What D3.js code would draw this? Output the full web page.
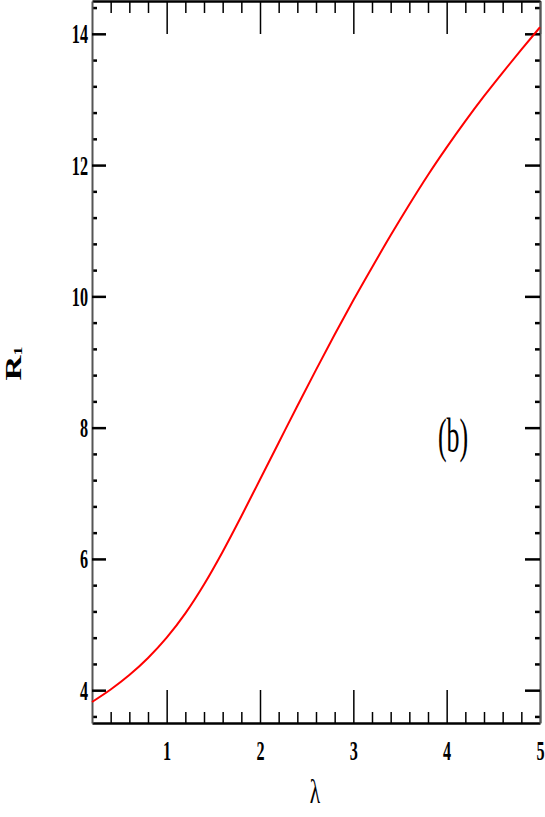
<!DOCTYPE html>
<html>
<head>
<meta charset="utf-8">
<script src="https://cdn.jsdelivr.net/npm/d3@7"></script>
<style>
  body { margin: 0; background: #fff; }
  svg { display: block; }
  .lbl { font-family: "Liberation Serif", "DejaVu Serif", serif; fill: #000; }
</style>
</head>
<body>
<svg width="545" height="817"></svg>
<script>
// lambda values and R1
const lambda = [0.2, 0.4, 0.6, 0.8, 1.0, 1.2, 1.4, 1.6, 1.8, 2.0, 2.2, 2.4, 2.6,
                2.8, 3.0, 3.2, 3.4, 3.6, 3.8, 4.0, 4.2, 4.4, 4.6, 4.8, 5.0];
const r1 = [3.82, 4.01, 4.23, 4.49, 4.80, 5.17, 5.61, 6.11, 6.65, 7.21, 7.77, 8.33, 8.88,
            9.42, 9.94, 10.44, 10.93, 11.40, 11.85, 12.27, 12.67, 13.05, 13.41, 13.76, 14.10];

const xMajor = [1, 2, 3, 4, 5];
const xMinor = d3.range(0.4, 5, 0.2).map(v => +v.toFixed(1)).filter(v => !xMajor.includes(v));
const yMajor = [4, 6, 8, 10, 12, 14];
const yMinor = d3.range(3.6, 14.5, 0.4).map(v => +v.toFixed(1)).filter(v => !yMajor.includes(v));

const svg = d3.select("svg");
const plotL = 92, plotR = 540, plotT = 1, plotB = 723;

const x = d3.scaleLinear().domain([0.2, 5]).range([plotL, plotR]);
const y = d3.scaleLinear().domain([3.5, 14.5]).range([plotB, plotT]);

const sx = 0.6; // squeeze the digits like the original font

// bottom axis: minor then major ticks, pointing inward
svg.append("g").attr("transform", `translate(0,${plotB})`)
    .call(d3.axisBottom(x).tickValues(xMinor).tickSize(-11).tickSizeOuter(0).tickFormat(""))
    .call(g => g.select(".domain").remove())
    .call(g => g.selectAll("line").attr("stroke-width", 1.5));
const xb = svg.append("g").attr("transform", `translate(0,${plotB})`)
    .call(d3.axisBottom(x).tickValues(xMajor).tickSize(-33).tickSizeOuter(0).tickFormat(d3.format("d")));
xb.select(".domain").attr("stroke-width", 2.5);
xb.selectAll("line").attr("stroke-width", 1.5);
xb.selectAll("text")
    .attr("class", "lbl").attr("font-size", 27).attr("font-weight", "bold")
    .attr("y", null).attr("dy", null)
    .attr("transform", `translate(0,37) scale(${sx},1)`);

// top axis mirrored
svg.append("g").attr("transform", `translate(0,${plotT})`)
    .call(d3.axisTop(x).tickValues(xMinor).tickSize(-12).tickSizeOuter(0).tickFormat(""))
    .call(g => g.select(".domain").remove())
    .call(g => g.selectAll("line").attr("stroke-width", 1.5));
svg.append("g").attr("transform", `translate(0,${plotT})`)
    .call(d3.axisTop(x).tickValues(xMajor).tickSize(-33).tickSizeOuter(0).tickFormat(""))
    .call(g => g.select(".domain").attr("stroke-width", 2.5))
    .call(g => g.selectAll("line").attr("stroke-width", 1.5));

// left axis
svg.append("g").attr("transform", `translate(${plotL},0)`)
    .call(d3.axisLeft(y).tickValues(yMinor).tickSize(-5).tickSizeOuter(0).tickFormat(""))
    .call(g => g.select(".domain").remove())
    .call(g => g.selectAll("line").attr("stroke-width", 2.5));
const yl = svg.append("g").attr("transform", `translate(${plotL},0)`)
    .call(d3.axisLeft(y).tickValues(yMajor).tickSize(-14).tickSizeOuter(0).tickFormat(d3.format("d")));
yl.select(".domain").attr("stroke", "#555").attr("stroke-width", 2);
yl.selectAll("line").attr("stroke-width", 2.5);
yl.selectAll("text")
    .attr("class", "lbl").attr("font-size", 27).attr("font-weight", "bold")
    .attr("x", null).attr("dy", "0.33em")
    .attr("transform", `translate(-4,0) scale(${sx},1)`);

// right axis mirrored
svg.append("g").attr("transform", `translate(${plotR},0)`)
    .call(d3.axisRight(y).tickValues(yMinor).tickSize(-5).tickSizeOuter(0).tickFormat(""))
    .call(g => g.select(".domain").remove())
    .call(g => g.selectAll("line").attr("stroke-width", 2.5));
svg.append("g").attr("transform", `translate(${plotR},0)`)
    .call(d3.axisRight(y).tickValues(yMajor).tickSize(-15).tickSizeOuter(0).tickFormat(""))
    .call(g => g.select(".domain").attr("stroke", "#555").attr("stroke-width", 2))
    .call(g => g.selectAll("line").attr("stroke-width", 2.5));

// the curve
const line = d3.line()
    .x((d, i) => x(lambda[i]))
    .y(d => y(d))
    .curve(d3.curveMonotoneX);

svg.append("path")
    .datum(r1)
    .attr("fill", "none")
    .attr("stroke", "#ff0000")
    .attr("stroke-width", 2)
    .attr("d", line);

// axis titles
svg.append("text").attr("class", "lbl")
    .attr("font-size", 33).attr("text-anchor", "middle")
    .attr("transform", "translate(315,803) scale(0.65,1)")
    .text("λ");

const yt = svg.append("text").attr("class", "lbl")
    .attr("font-size", 23).attr("font-weight", "bold")
    .attr("text-anchor", "middle")
    .attr("transform", "translate(21,363.5) rotate(-90) scale(1.5,1)");
yt.append("tspan").text("R");
yt.append("tspan").attr("font-size", 12).attr("dy", 1).text("1");

svg.append("text").attr("class", "lbl")
    .attr("font-size", 48).attr("text-anchor", "middle")
    .attr("transform", "translate(453,452) scale(0.54,1)")
    .text("(b)");
</script>
</body>
</html>
